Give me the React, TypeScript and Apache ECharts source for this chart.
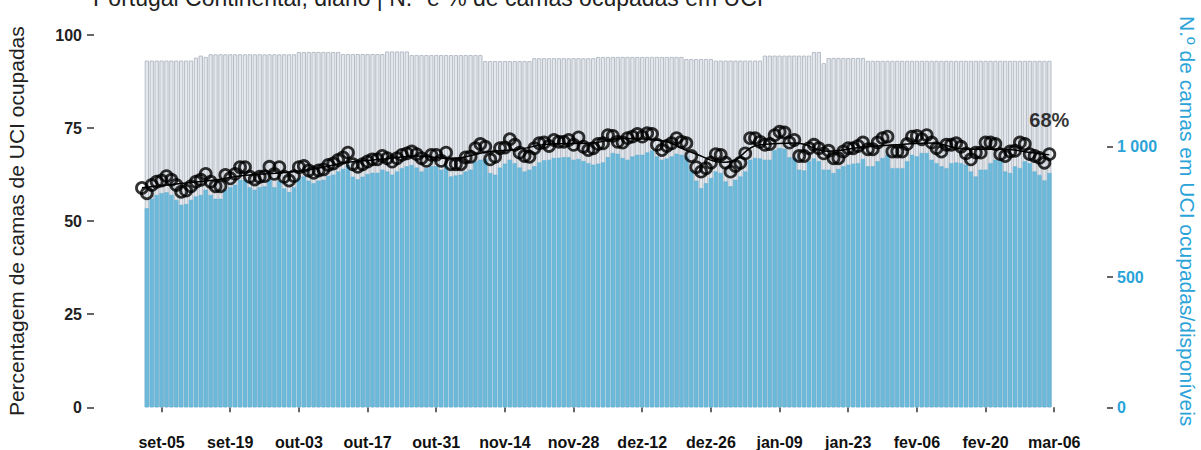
import React, { useEffect, useRef } from "react";
import * as echarts from "echarts";

const FONT = "'Liberation Sans', Arial, Helvetica, sans-serif";
const BLUE_TEXT = "#2aa3d9";

const TITLE = "Portugal Continental, diário | N.º e % de camas ocupadas em UCI";
const LEFT_NAME = "Percentagem de camas de UCI ocupadas";
const RIGHT_NAME = "N.º de camas em UCI ocupadas/disponíveis";

// categories: daily, set-01 .. mar-06
const MONTHS = ["set", "out", "nov", "dez", "jan", "fev", "mar"];
const MONTH_DAYS = [30, 31, 30, 31, 31, 28, 6];
const categories: string[] = [];
MONTHS.forEach((m, k) => {
  for (let d = 1; d <= MONTH_DAYS[k]; d++) categories.push(`${m}-${String(d).padStart(2, "0")}`);
});

const TICK_LABELS = [
  "set-05", "set-19", "out-03", "out-17", "out-31", "nov-14", "nov-28",
  "dez-12", "dez-26", "jan-09", "jan-23", "fev-06", "fev-20", "mar-06",
];

const RIGHT_TICKS = [0, 500, 1000];

// % de camas ocupadas (left axis)
const pct = [
  58.9, 57.5, 59.7, 60.6, 60.9, 62.1, 61.1, 59.7, 57.9, 58.2,
  59.4, 60.6, 61.1, 62.7, 60.6, 59.4, 59.4, 62.4, 61.5, 62.7,
  64.5, 64.5, 61.9, 61.2, 61.9, 62.1, 64.6, 62.7, 64.5, 61.9,
  60.9, 62.1, 64.5, 64.8, 63.6, 63.0, 63.6, 63.9, 65.1, 65.5,
  66.4, 67.1, 68.4, 65.3, 64.6, 65.3, 66.0, 66.6, 66.6, 67.5,
  66.9, 66.0, 66.9, 67.8, 68.2, 68.7, 68.0, 66.9, 66.2, 67.8,
  67.8, 66.2, 68.4, 65.3, 65.3, 65.3, 67.1, 67.3, 69.6, 70.7,
  70.0, 66.6, 67.3, 69.6, 69.8, 72.0, 70.5, 68.4, 67.5, 67.3,
  69.6, 70.9, 71.1, 70.2, 71.8, 71.3, 71.3, 71.8, 70.5, 72.5,
  70.0, 69.1, 69.6, 70.7, 70.9, 73.1, 72.9, 71.3, 71.1, 72.3,
  72.7, 73.4, 72.7, 73.6, 73.4, 70.5, 69.1, 70.2, 70.9, 72.3,
  71.3, 70.9, 67.5, 64.5, 63.3, 64.2, 65.7, 68.0, 67.8, 65.7,
  63.3, 64.8, 65.7, 68.2, 72.3, 72.3, 71.3, 70.5, 70.7, 73.1,
  74.0, 73.8, 71.1, 71.8, 67.5, 67.5, 69.6, 70.5, 69.6, 68.2,
  68.9, 66.9, 66.9, 68.7, 69.6, 69.6, 70.2, 71.1, 69.3, 69.3,
  71.1, 72.3, 72.7, 68.7, 68.7, 68.7, 70.7, 72.7, 72.9, 72.0,
  73.1, 71.1, 69.6, 68.7, 70.5, 70.5, 70.9, 70.0, 68.2, 66.6,
  68.4, 68.4, 71.1, 71.1, 70.7, 68.0, 67.5, 68.7, 68.9, 71.1,
  70.7, 68.0, 67.5, 67.0, 65.7, 68.0,
];

// N.º de camas ocupadas (right axis)
const occupied = [
  null, 764, 800, 815, 822, 825, 815, 796, 777, 780,
  796, 809, 815, 835, 815, 800, 800, 835, 845, 854,
  873, 873, 845, 835, 845, 848, 873, 845, 870, 840,
  826, 845, 880, 886, 870, 860, 870, 873, 888, 893,
  905, 915, 930, 885, 875, 885, 895, 900, 900, 912,
  905, 893, 905, 918, 925, 930, 920, 905, 918, 925,
  925, 912, 925, 886, 890, 893, 905, 912, 944, 950,
  953, 899, 893, 920, 935, 950, 937, 920, 905, 912,
  925, 940, 948, 950, 957, 958, 960, 960, 950, 953,
  945, 937, 931, 935, 940, 960, 976, 973, 957, 950,
  963, 969, 969, 978, 986, 963, 950, 955, 963, 973,
  969, 963, 910, 870, 841, 860, 880, 905, 899, 867,
  848, 873, 886, 905, 950, 957, 955, 950, 950, 988,
  995, 992, 960, 957, 912, 909, 944, 955, 944, 912,
  912, 899, 915, 925, 931, 935, 937, 953, 925, 925,
  944, 957, 969, 918, 918, 918, 944, 969, 963, 976,
  976, 950, 937, 925, 918, 937, 940, 937, 931, 905,
  886, 912, 912, 937, 950, 948, 905, 899, 925, 918,
  944, 937, 905, 892, 871, 899,
];

// N.º de camas disponíveis (right axis)
const available = [
  null, 1331, 1331, 1331, 1331, 1331, 1331, 1331, 1331, 1331,
  1331, 1342, 1350, 1345, 1355, 1355, 1355, 1355, 1355, 1355,
  1355, 1355, 1355, 1355, 1355, 1355, 1355, 1355, 1355, 1355,
  1355, 1355, 1364, 1364, 1364, 1364, 1364, 1364, 1364, 1364,
  1364, 1356, 1356, 1356, 1356, 1356, 1356, 1356, 1356, 1356,
  1366, 1366, 1366, 1366, 1366, 1352, 1352, 1352, 1352, 1352,
  1352, 1352, 1352, 1352, 1352, 1352, 1352, 1352, 1352, 1352,
  1329, 1329, 1329, 1329, 1329, 1329, 1329, 1329, 1329, 1329,
  1340, 1340, 1340, 1340, 1340, 1340, 1340, 1340, 1340, 1340,
  1340, 1340, 1340, 1345, 1345, 1345, 1345, 1345, 1345, 1345,
  1345, 1345, 1345, 1345, 1345, 1345, 1345, 1345, 1345, 1345,
  1345, 1337, 1337, 1337, 1337, 1337, 1337, 1331, 1331, 1331,
  1331, 1331, 1331, 1331, 1331, 1331, 1331, 1350, 1350, 1350,
  1350, 1350, 1350, 1350, 1350, 1350, 1350, 1364, 1364, 1321,
  1341, 1341, 1341, 1341, 1341, 1341, 1341, 1341, 1330, 1330,
  1330, 1330, 1330, 1330, 1330, 1330, 1330, 1330, 1330, 1330,
  1330, 1330, 1330, 1330, 1330, 1330, 1330, 1330, 1330, 1330,
  1330, 1330, 1330, 1330, 1330, 1330, 1330, 1330, 1330, 1330,
  1330, 1330, 1330, 1330, 1330, 1330,
];

// smoothed trend (read at weekly points)
const trendIdx = [0, 7, 14, 21, 28, 35, 42, 49, 56, 63, 70, 77, 84, 91, 98, 105, 112, 119, 126, 133, 140, 147, 154, 161, 168, 175, 182, 185];
const trendVal = [59.0, 60.0, 60.9, 62.3, 62.9, 64.0, 65.8, 66.6, 67.5, 66.8, 68.5, 69.4, 70.8, 70.9, 72.2, 71.8, 68.5, 65.8, 70.5, 71.0, 68.8, 69.9, 70.5, 71.0, 69.3, 69.3, 68.3, 67.8];

export default function App() {
  const ref = useRef<HTMLDivElement>(null);

  useEffect(() => {
    document.body.style.margin = "0";
    if (!ref.current) return;
    const chart = echarts.init(ref.current, undefined, { renderer: "svg" });

    const showTick = (_i: number, v: string) => TICK_LABELS.includes(v);
    const trend: (number | null)[] = categories.map(() => null);
    trendIdx.forEach((k, j) => (trend[k] = trendVal[j]));
    const lastIdx = pct.length - 1;
    const pctData = pct.map((v, i) =>
      i === lastIdx
        ? {
            value: v,
            label: {
              show: true,
              position: "top",
              distance: 17,
              formatter: `${Math.round(v)}%`,
              fontSize: 20,
              fontWeight: "bold",
              color: "#000",
              fontFamily: FONT,
            },
          }
        : v
    );

    chart.setOption({
      animation: false,
      textStyle: { fontFamily: FONT },
      grid: {
        left: 139.5,
        right: 144.3,
        top: 35,
        bottom: 42.7,
        containLabel: false,
        outerBoundsMode: "none",
      },
      graphic: [
        {
          type: "text",
          left: 93,
          top: -14,
          style: { text: TITLE, fontSize: 23, fill: "#222", fontFamily: FONT },
        },
      ],
      xAxis: {
        type: "category",
        data: categories,
        boundaryGap: true,
        offset: 18.7,
        axisLine: { show: false },
        axisTick: {
          show: true,
          alignWithLabel: true,
          interval: showTick,
          length: 5,
          lineStyle: { color: "#333", width: 1.5 },
        },
        axisLabel: {
          interval: showTick,
          margin: 8,
          color: "#111",
          fontSize: 16,
          fontWeight: "bold",
          fontFamily: FONT,
        },
        splitLine: { show: false },
      },
      yAxis: [
        {
          type: "value",
          min: 0,
          max: 100,
          interval: 25,
          position: "left",
          offset: 45.5,
          axisLine: { show: false },
          axisTick: { show: true, length: 7, lineStyle: { color: "#333", width: 1.5 } },
          axisLabel: { margin: 12, fontSize: 16, fontWeight: "bold", color: "#222", fontFamily: FONT },
          splitLine: { show: false },
          name: LEFT_NAME,
          nameLocation: "middle",
          nameRotate: 90,
          nameGap: 67,
          nameTextStyle: { fontSize: 21, color: "#222", fontFamily: FONT },
        },
        {
          type: "value",
          min: 0,
          max: 1429,
          position: "right",
          offset: 50.3,
          axisLine: { show: false },
          axisTick: { show: true, customValues: RIGHT_TICKS, length: 6, lineStyle: { color: "#333", width: 1.5 } },
          axisLabel: {
            customValues: RIGHT_TICKS,
            formatter: (v: number) => (v >= 1000 ? v.toLocaleString("en-US").replace(",", " ") : String(v)),
            margin: 10,
            fontSize: 16,
            fontWeight: "bold",
            color: BLUE_TEXT,
            fontFamily: FONT,
          },
          splitLine: { show: false },
          name: RIGHT_NAME,
          nameLocation: "middle",
          nameRotate: -90,
          nameGap: 70,
          nameTextStyle: { fontSize: 21, color: BLUE_TEXT, fontFamily: FONT },
        },
      ],
      series: [
        {
          name: "disponíveis",
          type: "bar",
          yAxisIndex: 1,
          data: available,
          barCategoryGap: "12%",
          barGap: "-100%",
          itemStyle: { color: "#e4e7eb", borderColor: "#b6bdc7", borderWidth: 1 },
        },
        {
          name: "ocupadas",
          type: "bar",
          yAxisIndex: 1,
          data: occupied,
          barCategoryGap: "12%",
          barGap: "-100%",
          itemStyle: { color: "#6cb9da", borderColor: "#5eaed2", borderWidth: 0.5 },
        },
        {
          name: "tendência",
          type: "line",
          yAxisIndex: 0,
          data: trend,
          connectNulls: true,
          smooth: true,
          showSymbol: false,
          symbol: "none",
          lineStyle: { color: "#000", width: 1.5 },
          z: 3,
        },
        {
          name: "%",
          type: "scatter",
          yAxisIndex: 0,
          data: pctData,
          symbol: "circle",
          symbolSize: 11,
          itemStyle: { color: "rgba(255,255,255,0)", borderColor: "#000", borderWidth: 2.8 },
          z: 4,
        },
      ],
    });

    return () => chart.dispose();
  }, []);

  return <div ref={ref} style={{ width: 1201, height: 450 }} />;
}
